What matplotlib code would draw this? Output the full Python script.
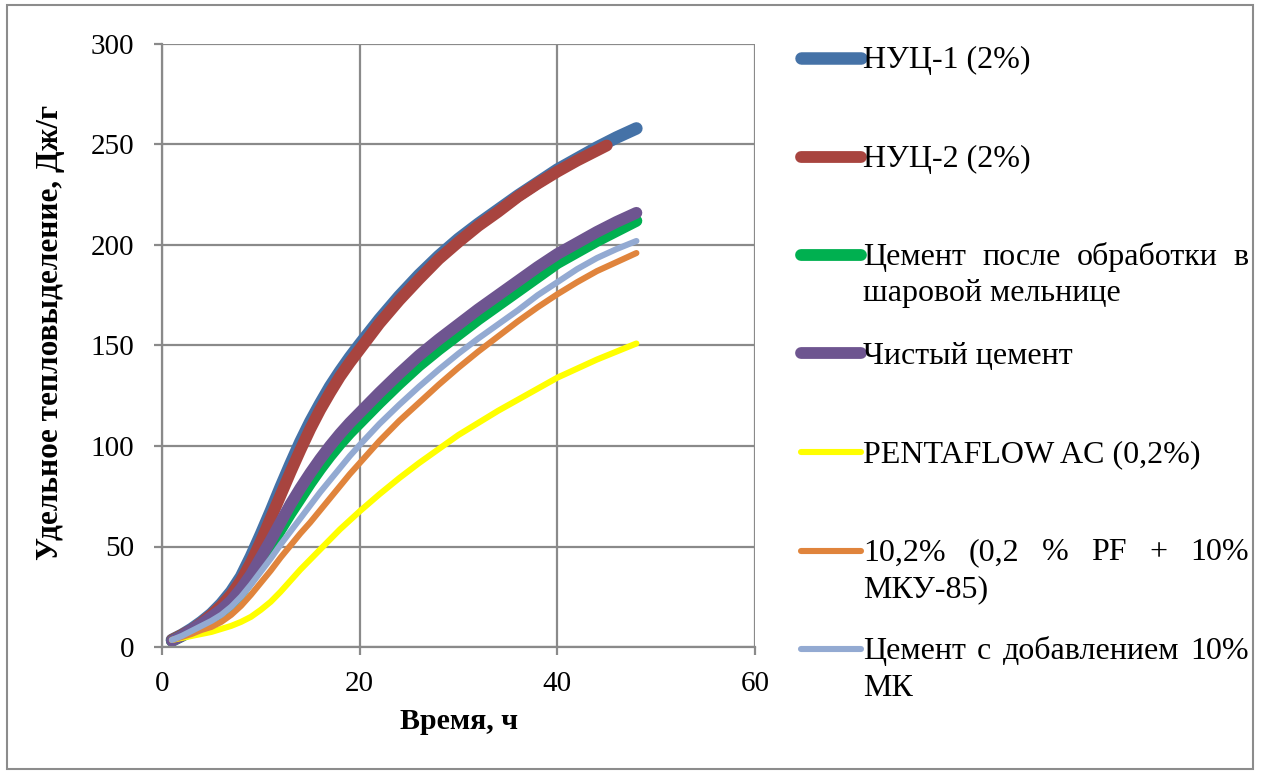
import matplotlib
matplotlib.use("Agg")
import matplotlib.pyplot as plt
from matplotlib.lines import Line2D
from matplotlib.patches import Rectangle

plt.rcParams['font.family'] = ['Liberation Serif', 'DejaVu Serif']

# data (heat release, J/g vs time, h)
hours = [1, 2, 3, 4, 5, 6, 7, 8, 9, 10, 11, 12, 13, 14, 15, 16, 17, 18, 19, 20,
         22, 24, 26, 28, 30, 32, 34, 36, 38, 40, 42, 44, 46, 48]
hours_nuc2 = [1, 2, 3, 4, 5, 6, 7, 8, 9, 10, 11, 12, 13, 14, 15, 16, 17, 18, 19, 20,
              22, 24, 26, 28, 30, 32, 34, 36, 38, 40, 42, 44, 45]

nuc1 = [3.5, 6, 9, 12.5, 16.5, 21.5, 27.5, 35, 45, 56, 67.5, 79.5, 91, 102, 112, 121, 129.5, 137, 144, 150.5,
        163, 174.5, 185, 194.5, 203, 210.5, 217.5, 224.5, 231, 237.5, 243, 248.5, 253.5, 258]
nuc2 = [3.5, 6, 8.5, 12, 16, 20.5, 26, 33, 42, 52.5, 64, 75.5, 87, 98, 108.5, 118, 126.5, 134.5, 141.5, 148,
        161, 172.5, 183, 193, 201.5, 209.5, 216.5, 224, 230.5, 236.5, 242, 247, 249.5]
ball_mill = [3, 5.5, 8, 11, 14, 17.5, 21.5, 27, 34, 42, 50, 58.5, 66.5, 74, 81.5, 88.5, 95, 101, 106.5, 111.5,
             121.5, 131, 140, 148, 155.5, 163, 170, 177, 184, 191, 196.5, 202, 207, 212]
pure_cement = [3, 5.5, 8.5, 11.5, 15, 18.5, 23, 29, 36, 44.5, 53, 62, 71, 79, 86.5, 93.5, 100, 106, 111.5, 116.5,
               126.5, 136, 145, 153, 160.5, 168, 175, 182, 189, 195.5, 201, 206.5, 211.5, 216]
pentaflow = [3.5, 4.5, 5.5, 6.5, 7.5, 9, 10.5, 12.5, 15, 18.5, 22.5, 27.5, 33, 38.5, 43.5, 48.5, 53.5, 58.5, 63, 67.5,
             76, 84, 91.5, 98.5, 105.5, 111.5, 117.5, 123, 128.5, 134, 138.5, 143, 147, 151]
pf_mku = [3.5, 5, 6.5, 8.5, 10, 12.5, 16, 20.5, 26, 32, 38, 44.5, 50.5, 56.5, 62, 68, 74, 80, 86, 91.5,
          102.5, 112.5, 121.5, 130.5, 139, 147, 154.5, 162, 169, 175.5, 181.5, 187, 191.5, 196]
mk10 = [3.5, 5.5, 8, 10.5, 13, 16, 20, 25, 31, 37.5, 44, 51, 57.5, 64, 70.5, 77, 83, 89, 95, 100.5,
        111, 120.5, 129.5, 138, 146, 153.5, 160.5, 167.5, 175, 181.5, 188, 193.5, 198, 202]

labels = ["НУЦ-1 (2%)", "НУЦ-2 (2%)", "Цемент после обработки в шаровой мельнице",
          "Чистый цемент", "PENTAFLOW AC (0,2%)", "10,2% (0,2 % PF + 10% МКУ-85)",
          "Цемент с добавлением 10% МК"]

series = [(hours, nuc1), (hours_nuc2, nuc2), (hours, ball_mill), (hours, pure_cement),
          (hours, pentaflow), (hours, pf_mku), (hours, mk10)]
colors = ['#4572A7', '#A8443F', '#00B050', '#6E5590', '#FFFF00', '#E0843C', '#93AAD2']
widths = [9, 8.5, 8.5, 8.5, 4.4, 4.4, 4.4]

W, H = 1264, 771
fig = plt.figure(figsize=(W / 100, H / 100), dpi=100)
ax = fig.add_axes([162 / W, 1 - 647 / H, (755 - 162) / W, (647 - 44) / H])

for (x, y), c, lw in zip(series, colors, widths):
    ax.plot(x, y, color=c, lw=lw, solid_capstyle='round', solid_joinstyle='round')

grid_c = '#8A8A8A'
ax.set_xlim(0, 60)
ax.set_ylim(0, 300)
ax.set_xticks([0, 20, 40, 60])
ax.set_yticks([0, 50, 100, 150, 200, 250, 300])
ax.grid(True, color=grid_c, lw=1.6)
ax.set_axisbelow(True)
for s in ['top', 'right']:
    ax.spines[s].set_visible(False)
for s in ['left', 'bottom']:
    ax.spines[s].set_color(grid_c)
    ax.spines[s].set_linewidth(1.6)
ax.tick_params(axis='both', colors=grid_c, width=1.6, length=6, labelsize=21, labelcolor='black')
ax.tick_params(axis='y', pad=14)
ax.tick_params(axis='x', pad=11)

ax.set_xlabel("Время, ч", fontsize=21.5, fontweight='bold', labelpad=8)
ax.set_ylabel("Удельное тепловыделение, Дж/г", fontsize=22.5, fontweight='bold', labelpad=18)
ax.yaxis.label.set_y(0.522)

# legend drawn by hand: Excel-style wrapped, justified text
renderer = fig.canvas.get_renderer()
x0, x1 = 863, 1249
fs = 23
line_gap = 36.5


def px(x, y):
    return x / W, 1 - y / H


def width_of(s):
    t = fig.text(0, 0, s, fontsize=fs)
    w = t.get_window_extent(renderer=renderer).width
    t.remove()
    return w


for i, (lab, c, lw) in enumerate(zip(labels, colors, widths)):
    yc = 58 + i * 98.5
    hx, hy = zip(px(801, yc), px(861, yc))
    fig.add_artist(Line2D(hx, hy, color=c, lw=lw, solid_capstyle='round',
                          transform=fig.transFigure))
    # greedy wrap
    lines, cur = [], []
    for w in lab.split(' '):
        if cur and width_of(' '.join(cur + [w])) > x1 - x0 + 4:
            lines.append(cur)
            cur = [w]
        else:
            cur.append(w)
    lines.append(cur)
    for j, words in enumerate(lines):
        yb = yc + 10 + j * line_gap
        if j < len(lines) - 1 and len(words) > 1:
            ws = [width_of(w) for w in words]
            gap = (x1 - x0 - sum(ws)) / (len(words) - 1)
            xx = x0
            for w, ww in zip(words, ws):
                fig.text(*px(xx, yb), w, fontsize=fs, va='baseline')
                xx += ww + gap
        else:
            fig.text(*px(x0, yb), ' '.join(words), fontsize=fs, va='baseline')

fig.add_artist(Rectangle(px(7, 769), (1253 - 7) / W, (769 - 5) / H, fill=False,
                         edgecolor='#8C8C8C', lw=1.5, transform=fig.transFigure))

fig.savefig("out.png", dpi=100)
